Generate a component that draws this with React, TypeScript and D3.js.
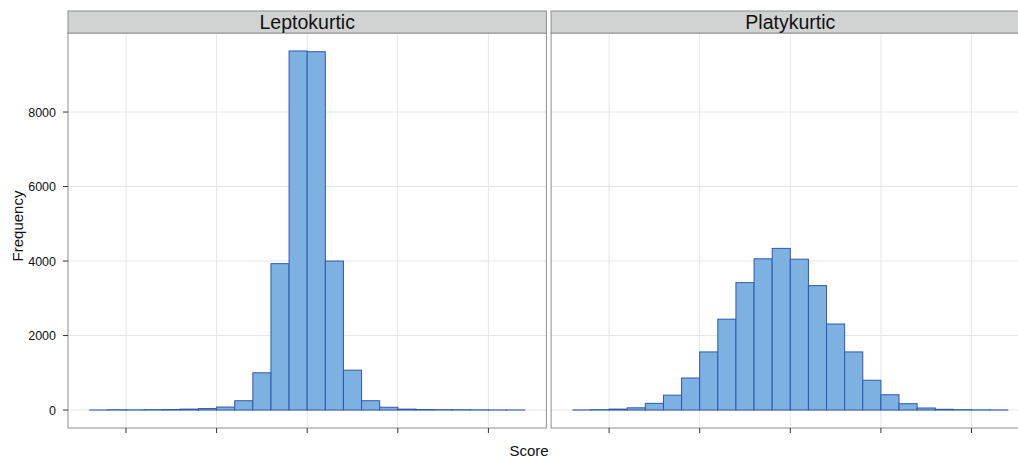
import React from 'react';
import * as d3 from 'd3';

// histogram counts, 24 bins of width 0.2 starting at -2.4
const binStart = -2.4;
const binWidth = 0.2;
const leptokurtic = [2, 8, 5, 10, 15, 25, 40, 80, 250, 1000, 3930, 9640, 9620, 4000, 1070, 250, 75, 25, 15, 10, 8, 5, 3, 2];
const platykurtic = [3, 10, 25, 60, 180, 400, 860, 1560, 2440, 3420, 4060, 4340, 4050, 3340, 2310, 1560, 800, 410, 170, 55, 20, 10, 5, 3];
const panels = [
  { name: 'Leptokurtic', counts: leptokurtic },
  { name: 'Platykurtic', counts: platykurtic },
];
const yTicks = [0, 2000, 4000, 6000, 8000];
const xTicks = [-2, -1, 0, 1, 2];

const W = 1018;
const H = 458;
const margin = { left: 68, top: 11, stripH: 22, bottom: 30 };
const panelW = 478.4;
const gap = 4.7;
const plotTop = margin.top + margin.stripH;
const plotBottom = 428;

const App = () => {
  const nBins = leptokurtic.length;
  const xMin = binStart;
  const xMax = binStart + nBins * binWidth;
  const xPad = (xMax - xMin) * 0.05;
  const maxCount = d3.max(panels, p => d3.max(p.counts)) as number;
  const y = d3.scaleLinear()
    .domain([-maxCount * 0.05, maxCount * 1.05])
    .range([plotBottom, plotTop]);

  const fontFam = '"Liberation Sans", Arial, Helvetica, sans-serif';

  return (
    <svg width={W} height={H} style={{ position: 'absolute', left: 0, top: 0 }} fontFamily={fontFam}>
      <rect width={W} height={H} fill="white" />
      {panels.map((p, pi) => {
        const x0 = margin.left + pi * (panelW + gap);
        const x = d3.scaleLinear().domain([xMin - xPad, xMax + xPad]).range([x0, x0 + panelW]);
        return (
          <g key={p.name}>
            {/* grid */}
            {yTicks.map(t => (
              <line key={'gy' + t} x1={x0} x2={x0 + panelW} y1={y(t)} y2={y(t)} stroke="#e6e6e6" strokeWidth={1} />
            ))}
            {xTicks.map(t => (
              <line key={'gx' + t} x1={x(t)} x2={x(t)} y1={plotTop} y2={plotBottom} stroke="#e6e6e6" strokeWidth={1} />
            ))}
            {/* bars */}
            {p.counts.map((c, i) => {
              const a = binStart + i * binWidth;
              return (
                <rect key={i} x={x(a)} y={y(c)} width={x(a + binWidth) - x(a)} height={Math.max(0, y(0) - y(c))}
                  fill="#7db1e1" stroke="#2f57ad" strokeWidth={1} />
              );
            })}
            {/* panel border */}
            <rect x={x0} y={plotTop} width={panelW} height={plotBottom - plotTop} fill="none" stroke="#8e8e8e" strokeWidth={1} />
            {/* strip */}
            <rect x={x0} y={margin.top} width={panelW} height={margin.stripH} fill="#d1d3d3" stroke="#8e8e8e" strokeWidth={1} />
            <text x={x0 + panelW / 2} y={28.7} textAnchor="middle" fontSize={19.5} fill="#111">{p.name}</text>
            {/* x ticks */}
            {xTicks.map(t => (
              <line key={'tx' + t} x1={x(t)} x2={x(t)} y1={plotBottom} y2={plotBottom + 5} stroke="#333" strokeWidth={1} />
            ))}
          </g>
        );
      })}
      {/* y axis */}
      {yTicks.map(t => (
        <g key={'ty' + t}>
          <line x1={margin.left - 5} x2={margin.left} y1={y(t)} y2={y(t)} stroke="#333" strokeWidth={1} />
          <text x={margin.left - 12} y={y(t) + 4.5} textAnchor="end" fontSize={12.5} fill="#111">{t}</text>
        </g>
      ))}
      <text x={529} y={456} textAnchor="middle" fontSize={15} fill="#111">Score</text>
      <text transform={`translate(22.5, 226) rotate(-90)`} textAnchor="middle" fontSize={15} fill="#111">Frequency</text>
    </svg>
  );
};

export default App;
